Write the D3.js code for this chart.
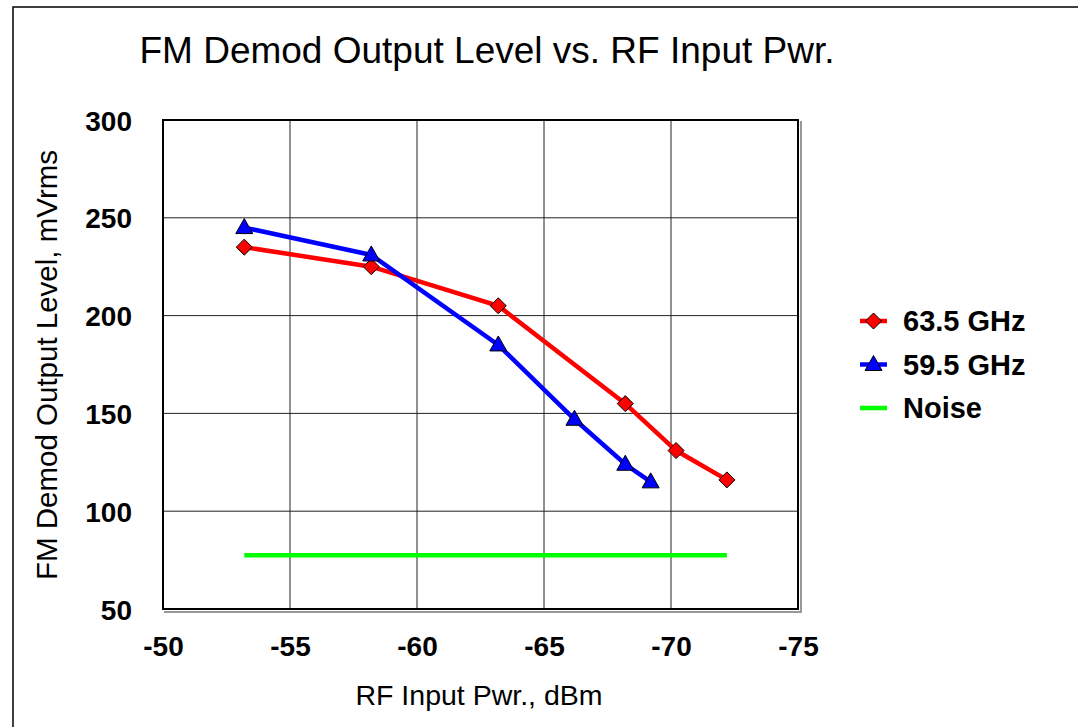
<!DOCTYPE html>
<html>
<head>
<meta charset="utf-8">
<script src="https://cdnjs.cloudflare.com/ajax/libs/d3/7.8.5/d3.min.js"></script>
<style>
  body { margin: 0; background: #fff; }
  svg text { font-family: "Liberation Sans", Arial, sans-serif; fill: #000; }
</style>
</head>
<body>
<svg id="chart" width="1078" height="727"></svg>
<script>
// data
var pwr635 = [-53.2, -58.2, -63.2, -68.2, -70.2, -72.2];
var lvl635 = [235, 225, 205, 155, 131, 116];
var pwr595 = [-53.2, -58.2, -63.2, -66.2, -68.2, -69.2];
var lvl595 = [245, 231, 185, 147, 124, 115];
var pwrNoise = [-53.2, -72.2];
var lvlNoise = [77.5, 77.5];
var xTicks = [-50, -55, -60, -65, -70, -75];
var yTicks = [50, 100, 150, 200, 250, 300];

var svg = d3.select("#chart");

// outer frame
svg.append("rect")
    .attr("x", 13).attr("y", 7)
    .attr("width", 1100).attr("height", 800)
    .attr("fill", "none").attr("stroke", "#000").attr("stroke-width", 1.5);

var pL = 163, pT = 120, pR = 798, pB = 609;

var x = d3.scaleLinear().domain([-50, -75]).range([pL, pR]);
var y = d3.scaleLinear().domain([50, 300]).range([pB, pT]);

// grid
var g = svg.append("g");
g.selectAll("line.vg").data(xTicks.slice(1, -1)).enter().append("line")
    .attr("x1", d => x(d)).attr("x2", d => x(d))
    .attr("y1", pT).attr("y2", pB)
    .attr("stroke", "#222").attr("stroke-width", 1);
g.selectAll("line.hg").data(yTicks.slice(1, -1)).enter().append("line")
    .attr("x1", pL).attr("x2", pR)
    .attr("y1", d => y(d)).attr("y2", d => y(d))
    .attr("stroke", "#222").attr("stroke-width", 1);

// shadow + plot border
svg.append("path")
    .attr("d", "M" + (pL + 1) + "," + (pB + 3) + "H" + (pR + 3) + "V" + (pT + 1))
    .attr("fill", "none").attr("stroke", "#999").attr("stroke-width", 2);
svg.append("rect")
    .attr("x", pL).attr("y", pT)
    .attr("width", pR - pL).attr("height", pB - pT)
    .attr("fill", "none").attr("stroke", "#000").attr("stroke-width", 2);

// axes (labels only)
var xAxis = d3.axisBottom(x).tickValues(xTicks).tickSize(0).tickPadding(0)
    .tickFormat(d => String(d));
var xg = svg.append("g").attr("transform", "translate(0," + (pB + 47) + ")").call(xAxis);
xg.select(".domain").remove();
xg.selectAll("text")
    .attr("y", 0).attr("dy", 0)
    .style("font-family", "Liberation Sans, Arial, sans-serif")
    .style("font-size", "28px").style("font-weight", "bold").attr("fill", "#000");

var yAxis = d3.axisLeft(y).tickValues(yTicks).tickSize(0).tickPadding(31);
var yg = svg.append("g").attr("transform", "translate(" + pL + ",0)").call(yAxis);
yg.select(".domain").remove();
yg.selectAll("text")
    .attr("dy", "0.36em")
    .style("font-family", "Liberation Sans, Arial, sans-serif")
    .style("font-size", "28px").style("font-weight", "bold").attr("fill", "#000");

// title and axis titles
svg.append("text")
    .attr("x", 487).attr("y", 63).attr("text-anchor", "middle")
    .style("font-size", "37px").text("FM Demod Output Level vs. RF Input Pwr.");
svg.append("text")
    .attr("x", 479).attr("y", 705).attr("text-anchor", "middle")
    .style("font-size", "28.5px").text("RF Input Pwr., dBm");
svg.append("text")
    .attr("transform", "translate(57,365) rotate(-90)")
    .attr("text-anchor", "middle")
    .style("font-size", "29.5px").text("FM Demod Output Level, mVrms");

var line = d3.line().x(d => x(d[0])).y(d => y(d[1]));

function series(px, py, color, marker) {
  var pts = d3.zip(px, py);
  svg.append("path").datum(pts)
      .attr("d", line).attr("fill", "none")
      .attr("stroke", color).attr("stroke-width", 4.5);
  if (marker) {
    svg.selectAll(null).data(pts).enter().append("path")
        .attr("transform", d => "translate(" + x(d[0]) + "," + y(d[1]) + ")")
        .attr("d", marker)
        .attr("fill", color).attr("stroke", "#000").attr("stroke-width", 1);
  }
}

var diamond = "M0,-8L8,0L0,8L-8,0Z";
var triangle = "M0,-9L8.5,6L-8.5,6Z";

series(pwrNoise, lvlNoise, "#00ff00", null);
series(pwr635, lvl635, "#ff0000", diamond);
series(pwr595, lvl595, "#0000ff", triangle);

// legend
var legend = [
  { name: "63.5 GHz", color: "#ff0000", marker: diamond },
  { name: "59.5 GHz", color: "#0000ff", marker: triangle },
  { name: "Noise", color: "#00ff00", marker: null }
];
var lg = svg.selectAll("g.leg").data(legend).enter().append("g")
    .attr("transform", (d, i) => "translate(860," + (321 + i * 43.5) + ")");
lg.append("line")
    .attr("x1", 0).attr("x2", 27).attr("y1", 0).attr("y2", 0)
    .attr("stroke", d => d.color).attr("stroke-width", 4.5);
lg.filter(d => d.marker).append("path")
    .attr("transform", "translate(13.5,0)")
    .attr("d", d => d.marker)
    .attr("fill", d => d.color).attr("stroke", "#000").attr("stroke-width", 1);
lg.append("text")
    .attr("x", 43).attr("dy", "0.36em")
    .style("font-size", "29px").style("font-weight", "bold")
    .text(d => d.name);
</script>
</body>
</html>
